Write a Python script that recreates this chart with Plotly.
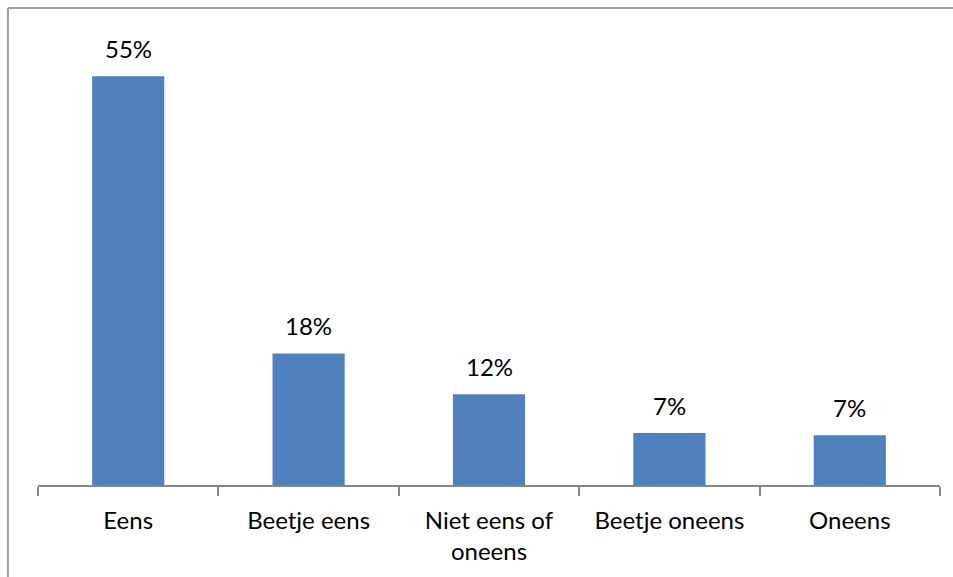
import plotly.graph_objects as go

categories = ["Eens", "Beetje eens", "Niet eens of<br>oneens", "Beetje oneens", "Oneens"]
shares = [0.55, 0.177, 0.122, 0.070, 0.067]

FONT = "Lato"
FONT_SIZE = 24
BAR_COLOR = "#4F81BD"
AXIS_GREY = "#868686"

fig = go.Figure(
    go.Bar(
        x=categories,
        y=shares,
        marker=dict(color=BAR_COLOR, line=dict(width=0)),
        width=0.4,
        hoverinfo="skip",
    )
)

# value labels above each bar
for cat, val in zip(categories, shares):
    fig.add_annotation(
        x=cat, y=val, text=f"{val:.0%}", showarrow=False,
        yanchor="bottom", yshift=11,
        font=dict(family=FONT, size=FONT_SIZE, color="#000000"),
    )

# chart-area frame (left and top edges visible)
fig.add_shape(type="line", xref="paper", yref="paper",
              x0=-0.0333, x1=-0.0333, y0=1.0695, y1=-0.3,
              line=dict(color="#A0A0A0", width=2))
fig.add_shape(type="line", xref="paper", yref="paper",
              x0=-0.0333, x1=1.1, y0=1.0695, y1=1.0695,
              line=dict(color="#A0A0A0", width=2))

fig.update_layout(
    width=953, height=577,
    margin=dict(l=38, r=13, t=39, b=92),
    paper_bgcolor="white", plot_bgcolor="white",
    showlegend=False,
    font=dict(family=FONT, size=FONT_SIZE, color="#000000"),
    xaxis=dict(
        type="category",
        showline=True, linecolor=AXIS_GREY, linewidth=2,
        ticks="outside", tickson="boundaries", ticklen=9,
        tickcolor=AXIS_GREY, tickwidth=2,
        showgrid=False, zeroline=False,
        tickfont=dict(family=FONT, size=FONT_SIZE, color="#000000"),
        ticklabelstandoff=13,
    ),
    yaxis=dict(range=[0, 0.6], visible=False, showgrid=False, zeroline=False),
)

fig.write_html("out.html")
